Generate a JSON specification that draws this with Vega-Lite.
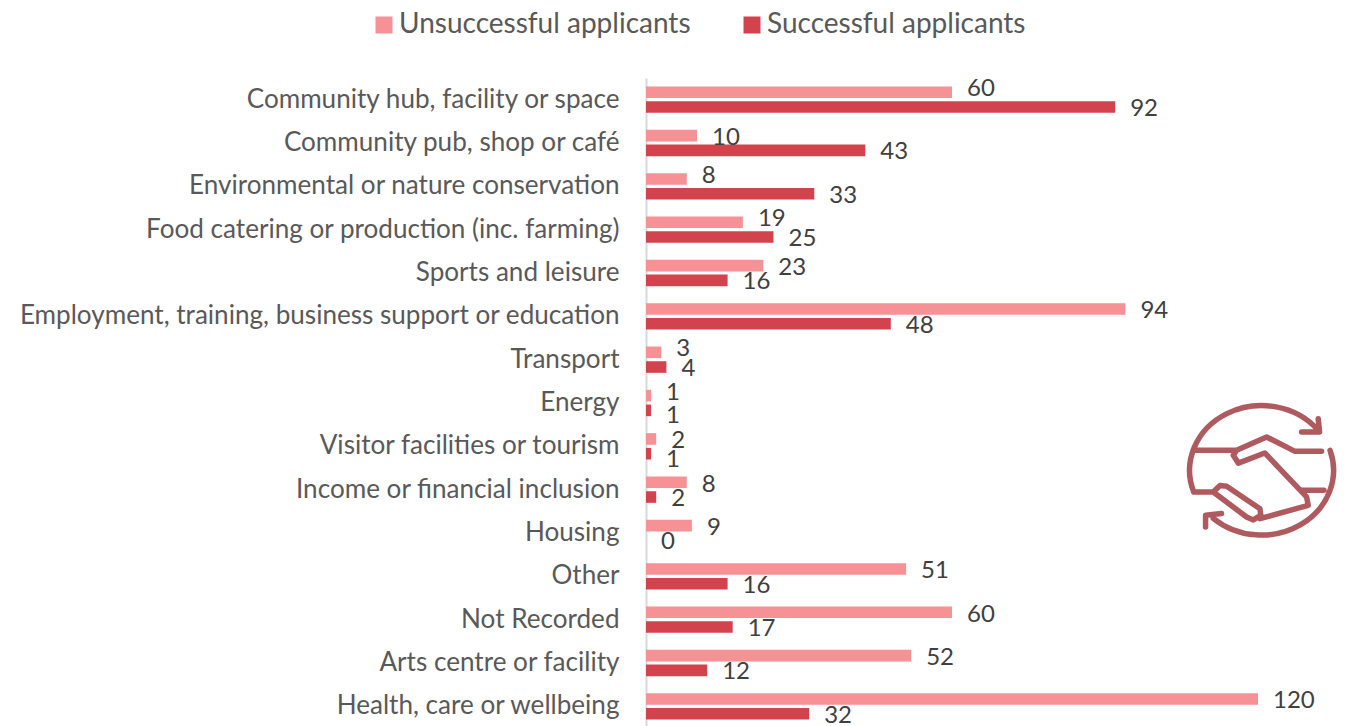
{
"$schema":"https://vega.github.io/schema/vega-lite/v6.json",
"autosize":{"type":"none"},
"padding":{"left":646,"top":78,"right":0,"bottom":0},
"width":706,"height":648,
"background":"white",
"config":{"view":{"stroke":null},"font":"Lato"},
"datasets":{"rows":[
{"category":"Community hub, facility or space","series":"Unsuccessful applicants","value":60},
{"category":"Community hub, facility or space","series":"Successful applicants","value":92},
{"category":"Community pub, shop or café","series":"Unsuccessful applicants","value":10},
{"category":"Community pub, shop or café","series":"Successful applicants","value":43},
{"category":"Environmental or nature conservation","series":"Unsuccessful applicants","value":8},
{"category":"Environmental or nature conservation","series":"Successful applicants","value":33},
{"category":"Food catering or production (inc. farming)","series":"Unsuccessful applicants","value":19},
{"category":"Food catering or production (inc. farming)","series":"Successful applicants","value":25},
{"category":"Sports and leisure","series":"Unsuccessful applicants","value":23},
{"category":"Sports and leisure","series":"Successful applicants","value":16},
{"category":"Employment, training, business support or education","series":"Unsuccessful applicants","value":94},
{"category":"Employment, training, business support or education","series":"Successful applicants","value":48},
{"category":"Transport","series":"Unsuccessful applicants","value":3},
{"category":"Transport","series":"Successful applicants","value":4},
{"category":"Energy","series":"Unsuccessful applicants","value":1},
{"category":"Energy","series":"Successful applicants","value":1},
{"category":"Visitor facilities or tourism","series":"Unsuccessful applicants","value":2},
{"category":"Visitor facilities or tourism","series":"Successful applicants","value":1},
{"category":"Income or financial inclusion","series":"Unsuccessful applicants","value":8},
{"category":"Income or financial inclusion","series":"Successful applicants","value":2},
{"category":"Housing","series":"Unsuccessful applicants","value":9},
{"category":"Housing","series":"Successful applicants","value":0},
{"category":"Other","series":"Unsuccessful applicants","value":51},
{"category":"Other","series":"Successful applicants","value":16},
{"category":"Not Recorded","series":"Unsuccessful applicants","value":60},
{"category":"Not Recorded","series":"Successful applicants","value":17},
{"category":"Arts centre or facility","series":"Unsuccessful applicants","value":52},
{"category":"Arts centre or facility","series":"Successful applicants","value":12},
{"category":"Health, care or wellbeing","series":"Unsuccessful applicants","value":120},
{"category":"Health, care or wellbeing","series":"Successful applicants","value":32}
]},
"layer":[
{"data":{"name":"rows"},
 "mark":{"type":"bar","height":11.6,"clip":false},
 "encoding":{
  "y":{"field":"category","type":"nominal","sort":null,"title":null,
   "scale":{"range":[0,650],"paddingInner":0.32,"paddingOuter":0.16},
   "axis":{"ticks":false,"grid":false,"labelPadding":27,"labelFontSize":26.1,"labelColor":"#595959","labelFont":"Lato","labelLimit":640,"domainColor":"#D9D9D9","domainWidth":2,"title":null}},
  "yOffset":{"field":"series","type":"nominal","sort":["Unsuccessful applicants","Successful applicants"]},
  "x":{"field":"value","type":"quantitative","scale":{"domain":[0,138.43],"nice":false},"axis":null},
  "color":{"field":"series","type":"nominal","sort":["Unsuccessful applicants","Successful applicants"],
   "scale":{"domain":["Unsuccessful applicants","Successful applicants"],"range":["#F69196","#D3434E"]},
   "legend":{"title":null,"orient":"none","direction":"horizontal","legendX":-276,"legendY":-67,"symbolType":"square","symbolSize":289,"symbolStrokeWidth":0,"labelFontSize":28,"labelColor":"#595959","labelFont":"Lato","labelLimit":400,"columnPadding":47,"labelOffset":1,"padding":0}}
 }},
{"data":{"name":"rows"},
 "transform":[{"filter":"datum.series === 'Unsuccessful applicants' && indexof(['Community hub, facility or space','Environmental or nature conservation','Food catering or production (inc. farming)','Transport','Energy'], datum.category) < 0"}],
 "mark":{"type":"text","align":"left","baseline":"middle","dx":15,"dy":2.5,"fontSize":24,"color":"#404040","font":"Lato"},
 "encoding":{
  "y":{"field":"category","type":"nominal","sort":null,"title":null},
  "yOffset":{"field":"series","type":"nominal","sort":["Unsuccessful applicants","Successful applicants"]},
  "x":{"field":"value","type":"quantitative"},
  "text":{"field":"value","type":"quantitative"}
 }},
{"data":{"name":"rows"},
 "transform":[{"filter":"datum.series === 'Unsuccessful applicants' && indexof(['Community hub, facility or space','Environmental or nature conservation','Food catering or production (inc. farming)','Transport','Energy'], datum.category) >= 0"}],
 "mark":{"type":"text","align":"left","baseline":"middle","dx":15,"dy":-3,"fontSize":24,"color":"#404040","font":"Lato"},
 "encoding":{
  "y":{"field":"category","type":"nominal","sort":null,"title":null},
  "yOffset":{"field":"series","type":"nominal","sort":["Unsuccessful applicants","Successful applicants"]},
  "x":{"field":"value","type":"quantitative"},
  "text":{"field":"value","type":"quantitative"}
 }},
{"data":{"name":"rows"},
 "transform":[{"filter":"datum.series === 'Successful applicants' && datum.category !== 'Energy' && datum.category !== 'Visitor facilities or tourism'"}],
 "mark":{"type":"text","align":"left","baseline":"middle","dx":15,"dy":2,"fontSize":24,"color":"#404040","font":"Lato"},
 "encoding":{
  "y":{"field":"category","type":"nominal","sort":null,"title":null},
  "yOffset":{"field":"series","type":"nominal","sort":["Unsuccessful applicants","Successful applicants"]},
  "x":{"field":"value","type":"quantitative"},
  "text":{"field":"value","type":"quantitative"}
 }},
{"data":{"name":"rows"},
 "transform":[{"filter":"datum.series === 'Successful applicants' && (datum.category === 'Energy' || datum.category === 'Visitor facilities or tourism')"}],
 "mark":{"type":"text","align":"left","baseline":"middle","dx":15,"dy":6,"fontSize":24,"color":"#404040","font":"Lato"},
 "encoding":{
  "y":{"field":"category","type":"nominal","sort":null,"title":null},
  "yOffset":{"field":"series","type":"nominal","sort":["Unsuccessful applicants","Successful applicants"]},
  "x":{"field":"value","type":"quantitative"},
  "text":{"field":"value","type":"quantitative"}
 }},
{"data":{"values":[{"icon":"handshake"}]},
 "mark":{"type":"point","filled":false,"stroke":"#AF5A5E","strokeWidth":5.5,"strokeCap":"round","strokeJoin":"round","opacity":1,"size":25600,"yOffset":24,"shape":"M-0.848 0.271A0.9 0.81 0 0 1 0.708 -0.5M0.708 -0.646L0.725 -0.479L0.5 -0.479M0.856 -0.25A0.9 0.81 0 0 1 -0.604 0.6M-0.5 0.54L-0.7 0.5625L-0.7 0.708M-0.856 -0.25L-0.312 -0.25M0.75 -0.24L0.4125 -0.24L0.0625 -0.417L-0.312 -0.25L-0.354 -0.1875L-0.29 -0.09L0.04 -0.217L0.5625 0.333L0.583 0.4375L-0.02 0.604M-0.848 0.271L-0.604 0.271L-0.52 0.19L-0.437 0.2L-0.02 0.48L-0.01 0.5625L-0.104 0.62L-0.1875 0.583L-0.604 0.271M0.5 0.25L0.78 0.25"},
 "encoding":{
  "x":{"datum":120.7,"type":"quantitative"},
  "y":{"datum":"Visitor facilities or tourism","type":"nominal"}
 }}
]
}
